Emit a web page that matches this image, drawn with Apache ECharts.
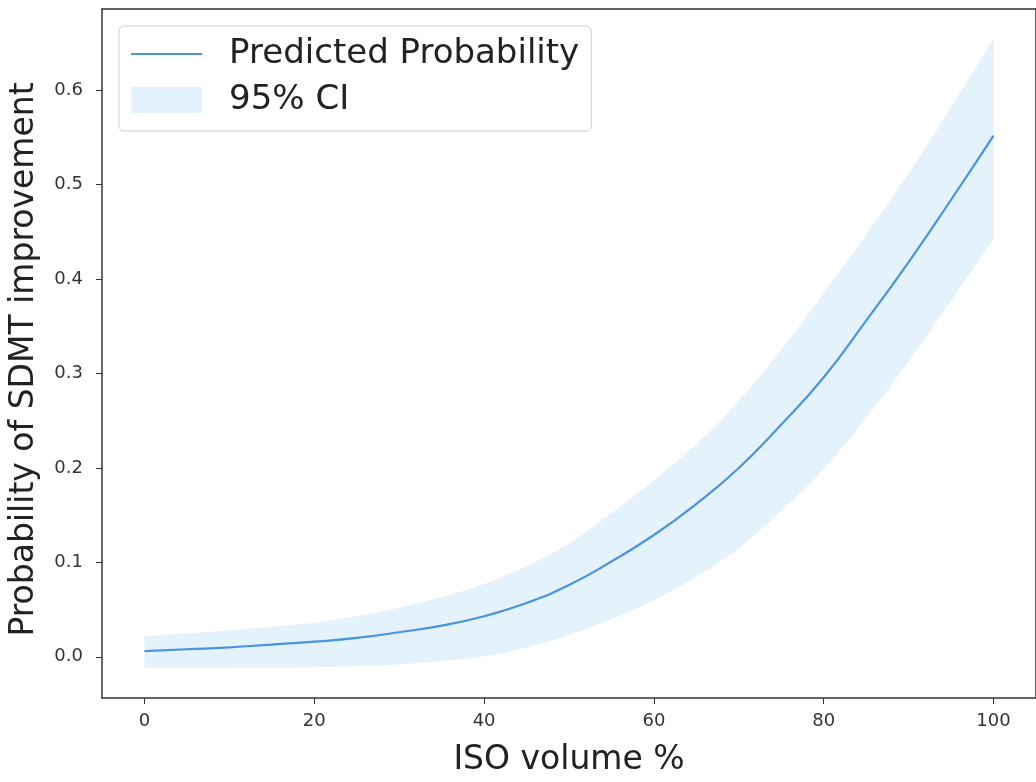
<!DOCTYPE html>
<html>
<head>
<meta charset="utf-8">
<script src="https://cdn.jsdelivr.net/npm/echarts@6/dist/echarts.min.js"></script>
<style>
html,body{margin:0;padding:0;background:#fff;}
#chart{width:1036px;height:782px;}
</style>
</head>
<body>
<div id="chart"></div>
<script>
// ISO volume % (x values)
const isoVolume = [0,5,10,15,20,25,30,35,40,45,50,55,60,65,70,75,80,85,90,95,100];
// Predicted probability
const predicted = [0.006,0.008,0.010,0.013,0.016,0.020,0.026,0.033,0.043,0.057,0.076,0.101,0.129,0.162,0.200,0.246,0.296,0.356,0.418,0.484,0.552];
// 95% CI bounds
const ciLower = [-0.0115,-0.0115,-0.0115,-0.0113,-0.011,-0.0097,-0.008,-0.0045,0.0005,0.010,0.023,0.040,0.060,0.085,0.115,0.155,0.199,0.253,0.313,0.377,0.443];
const ciUpper = [0.022,0.025,0.028,0.032,0.036,0.043,0.052,0.063,0.077,0.096,0.120,0.152,0.187,0.225,0.271,0.325,0.385,0.447,0.512,0.582,0.654];
// Tick labels
const xTicks = [0,20,40,60,80,100];
const yTicks = [0,0.1,0.2,0.3,0.4,0.5,0.6];

const lineColor = '#4a93e0';
const bandColor = '#e4f2fc';
const font = 'DejaVu Sans';

const predData = isoVolume.map((x,i)=>[x, predicted[i]]);
const bandData = isoVolume.map((x,i)=>[x, ciLower[i], ciUpper[i]]);

// smooth path through pixel points (Catmull-Rom -> cubic Bezier)
function curveSegs(pts){
  let d = '';
  for(let i=0;i<pts.length-1;i++){
    const p0 = pts[Math.max(0,i-1)], p1 = pts[i], p2 = pts[i+1], p3 = pts[Math.min(pts.length-1,i+2)];
    const c1 = [p1[0]+(p2[0]-p0[0])/6, p1[1]+(p2[1]-p0[1])/6];
    const c2 = [p2[0]-(p3[0]-p1[0])/6, p2[1]-(p3[1]-p1[1])/6];
    d += ' C'+c1[0]+','+c1[1]+' '+c2[0]+','+c2[1]+' '+p2[0]+','+p2[1];
  }
  return d;
}

const spine = {show:true, onZero:false, lineStyle:{color:'#333', width:1.5}};

const chart = echarts.init(document.getElementById('chart'), null, {renderer:'canvas'});
chart.setOption({
  animation:false,
  backgroundColor:'#fff',
  textStyle:{fontFamily:font},
  grid:{left:101, top:9, width:945, height:698, containLabel:false},
  legend:{
    left:119, top:26, orient:'vertical',
    padding:[11,12,14,11],
    itemWidth:71, itemHeight:26, itemGap:12,
    borderColor:'#cccccc', borderWidth:1, borderRadius:5,
    backgroundColor:'#ffffff',
    textStyle:{fontFamily:font, fontSize:34, color:'#222', padding:[0,0,0,22]},
    data:[
      {name:'Predicted Probability', itemStyle:{opacity:0}, lineStyle:{color:lineColor, width:2.2}},
      {name:'95% CI', icon:'rect', itemStyle:{color:bandColor}}
    ]
  },
  xAxis:[{
    type:'value', min:-5, max:105, position:'bottom', z:10,
    name:'ISO volume %', nameLocation:'middle', nameGap:46,
    nameTextStyle:{fontFamily:font, fontSize:33, color:'#222'},
    axisLine:spine,
    axisTick:{show:true, length:6, lineStyle:{color:'#333'}, customValues:xTicks},
    axisLabel:{fontFamily:font, fontSize:18, color:'#333', margin:14, customValues:xTicks},
    splitLine:{show:false}
  },{
    type:'value', min:-5, max:105, position:'top', z:10,
    axisLine:spine, axisTick:{show:false}, axisLabel:{show:false}, splitLine:{show:false}
  }],
  yAxis:[{
    type:'value', min:-0.0436, max:0.686, position:'left', z:10,
    name:'Probability of SDMT improvement', nameLocation:'middle', nameGap:61,
    nameTextStyle:{fontFamily:font, fontSize:33, color:'#222', padding:[0,12,0,0]},
    axisLine:spine,
    axisTick:{show:true, length:6, lineStyle:{color:'#333'}, customValues:yTicks},
    axisLabel:{fontFamily:font, fontSize:18, color:'#333', margin:19, customValues:yTicks,
      formatter:(v)=>v.toFixed(1)},
    splitLine:{show:false}
  },{
    type:'value', min:-0.0436, max:0.686, position:'right', z:10,
    axisLine:spine, axisTick:{show:false}, axisLabel:{show:false}, splitLine:{show:false}
  }],
  series:[
    {
      name:'95% CI', type:'custom', data:bandData,
      encode:{x:0, y:[1,2]},
      itemStyle:{color:bandColor}, silent:true, z:1,
      renderItem:(params, api)=>{
        if(params.dataIndex !== 0) return null;
        const up = bandData.map(d=>api.coord([d[0], d[2]]));
        const lo = bandData.map(d=>api.coord([d[0], d[1]])).reverse();
        let path = 'M'+up[0][0]+','+up[0][1] + curveSegs(up);
        path += ' L'+lo[0][0]+','+lo[0][1] + curveSegs(lo) + ' Z';
        return {type:'path', shape:{pathData:path}, style:{fill:bandColor, stroke:null}};
      }
    },
    {
      name:'Predicted Probability', type:'line', data:predData,
      smooth:true, symbol:'none', lineStyle:{color:lineColor, width:2.2},
      itemStyle:{color:lineColor}, z:3
    }
  ]
});
</script>
</body>
</html>
